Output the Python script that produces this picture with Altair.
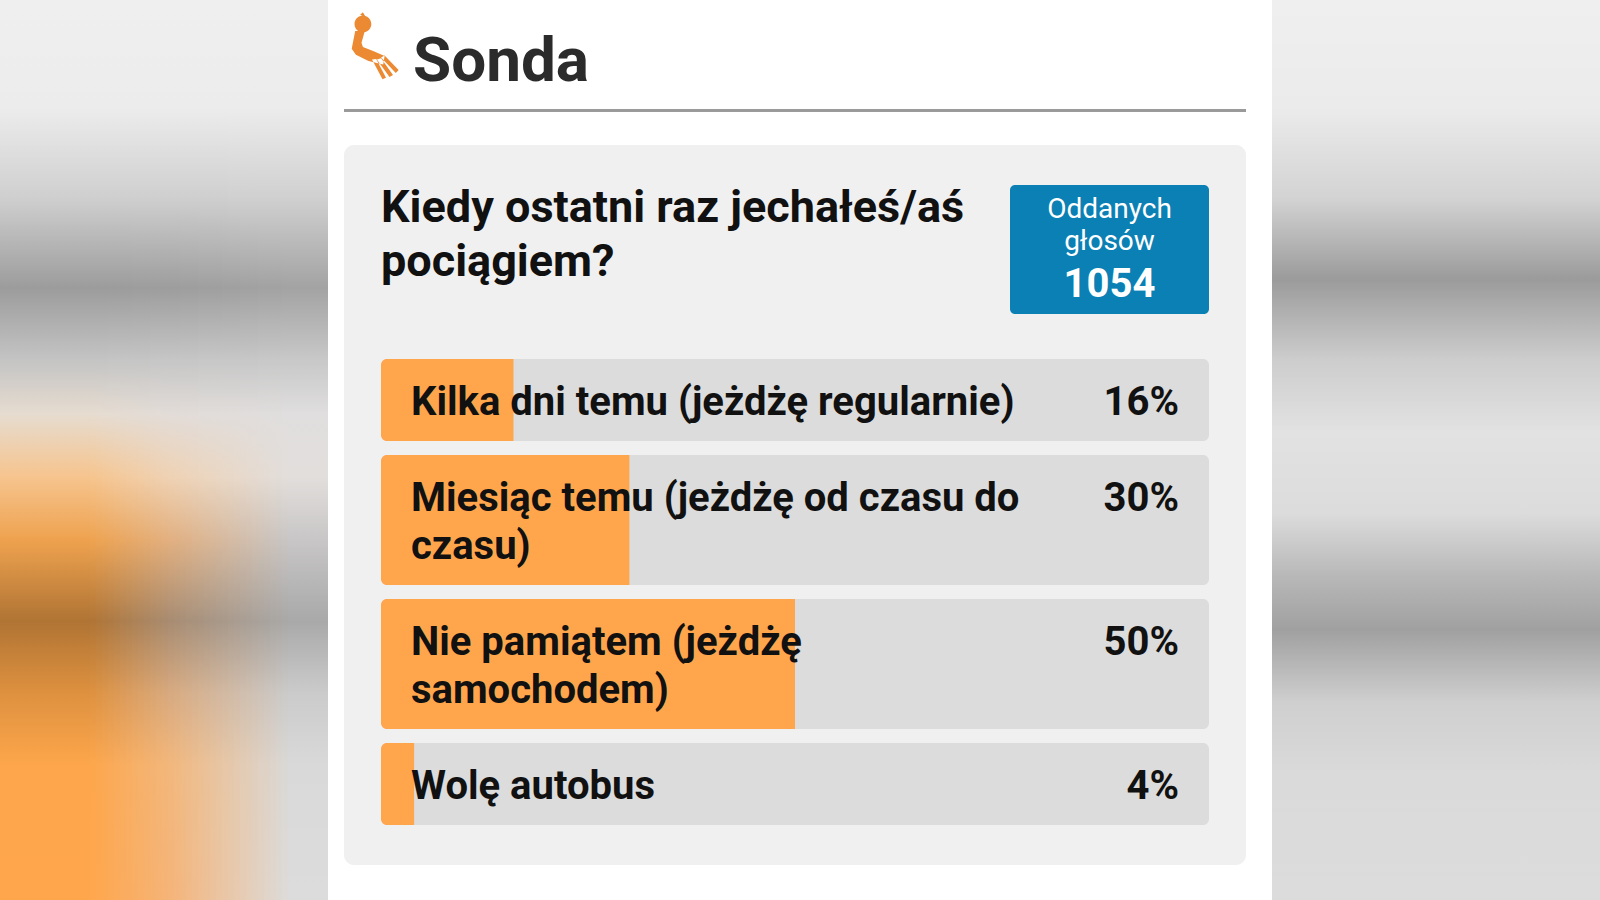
import altair as alt
import pandas as pd

# ---------------- data ----------------
title = "Sonda"
question_lines = ["Kiedy ostatni raz jechałeś/aś", "pociągiem?"]
votes_caption = ["Oddanych", "głosów"]
votes_total = 1054
option_lines = [
    ["Kilka dni temu (jeżdżę regularnie)"],
    ["Miesiąc temu (jeżdżę od czasu do", "czasu)"],
    ["Nie pamiątem (jeżdżę", "samochodem)"],
    ["Wolę autobus"],
]
option_pct = [16, 30, 50, 4]

# ---------------- style / layout ----------------
W, H = 1600, 900
FONT = "Roboto"
ORANGE = "#ffa64d"
TRACK = "#dcdcdc"
CARD = "#f0f0f0"
BLUE = "#0b80b4"
INK = "#111111"

TRACK_X0, TRACK_X1 = 381, 1209
ROW_TOP0, ROW_H1, LINE_H, ROW_GAP = 359, 82, 48, 14
BASE_OFF = 56

rows, lines = [], []
top = ROW_TOP0
for i, (ls, p) in enumerate(zip(option_lines, option_pct)):
    h = ROW_H1 + LINE_H * (len(ls) - 1)
    rows.append({"i": i, "pct": p, "top": top, "bot": top + h, "base": top + BASE_OFF})
    for j, t in enumerate(ls):
        lines.append({"txt": t, "base": top + BASE_OFF + j * LINE_H})
    top += h + ROW_GAP
rows_df = pd.DataFrame(rows)
lines_df = pd.DataFrame(lines)

YPX = alt.Scale(domain=[0, H], range=[0, H])
XPCT = alt.Scale(domain=[0, 100], range=[TRACK_X0, TRACK_X1])

one = pd.DataFrame({"a": [0]})


def hex2rgb(h):
    h = h.lstrip("#")
    return [int(h[k:k + 2], 16) for k in (0, 2, 4)]


def mix(c1, c2, t):
    a, b = hex2rgb(c1), hex2rgb(c2)
    return "#" + "".join(f"{round(a[k] + (b[k] - a[k]) * t):02x}" for k in range(3))


def box(x0, x1, y0, y1, color, **kw):
    return alt.Chart(one).mark_rect(color=color, **kw).encode(
        x=alt.value(x0), x2=alt.value(x1), y=alt.value(y0), y2=alt.value(y1)
    )


def vgrad(stops):
    return alt.Gradient(
        gradient="linear", x1=0, x2=0, y1=0, y2=1,
        stops=[alt.GradientStop(offset=o, color=c) for o, c in stops],
    )


# blurred background: left column (orange blur bottom-left)
offs = [0.0, 0.12, 0.22, 0.32, 0.40, 0.46, 0.53, 0.60, 0.69, 0.77, 0.85, 1.0]
profL = ["#efefef", "#ececec", "#cfcfcf", "#9c9c9c", "#c4c4c4", "#e6dcd0",
         "#f6c48e", "#eea24f", "#b07434", "#de913f", "#fda64b", "#ffa64c"]
profM = ["#efefef", "#ececec", "#cfcfcf", "#9d9d9d", "#c6c6c6", "#e2dcd8",
         "#efd2b4", "#e2b080", "#a88c72", "#d8aa80", "#f2b77c", "#f5b478"]
profR = ["#efefef", "#ececec", "#d0d0d0", "#a3a3a3", "#c8c8c8", "#e0dede",
         "#e2dedc", "#c8c6c6", "#a9a9a9", "#cbcbcb", "#d9d9d9", "#dcdcdc"]
layers = []
STEP = 6
for x0 in range(0, 328, STEP):
    xc = x0 + STEP / 2
    if xc <= 90:
        cols = profL
    elif xc <= 170:
        t = (xc - 90) / 80
        cols = [mix(a, b, t) for a, b in zip(profL, profM)]
    elif xc <= 290:
        t = (xc - 170) / 120
        cols = [mix(a, b, t) for a, b in zip(profM, profR)]
    else:
        cols = profR
    layers.append(box(x0, min(x0 + STEP + 1, 328), 0, H, vgrad(list(zip(offs, cols)))))

# right column
roffs = [0.0, 0.12, 0.22, 0.31, 0.40, 0.48, 0.57, 0.64, 0.70, 0.78, 0.86, 1.0]
rcols = ["#efefef", "#ebebeb", "#d3d3d3", "#9b9b9b", "#cdcdcd", "#e2e2e2",
         "#dcdcdc", "#b8b8b8", "#a0a0a0", "#cfcfcf", "#dadada", "#dcdcdc"]
layers.append(box(1272, W, 0, H, vgrad(list(zip(roffs, rcols)))))

# white page + header
layers.append(box(328, 1272, 0, H, "#ffffff"))
layers.append(box(344, 1246, 109, 112, "#9a9a9a"))

# logo (stylised orange deer)
LOGO_PATH = (
    "M -0.50 -0.66 A 0.24 0.24 0 1 1 -0.02 -0.66 A 0.24 0.24 0 1 1 -0.50 -0.66 Z "
    "M -0.34 -0.92 L -0.26 -0.99 L -0.18 -0.86 Z "
    "M -0.20 -0.48 L -0.30 -0.12 L -0.26 0.0 L 0.05 0.12 L 0.36 0.26 L 0.32 0.50 "
    "L -0.10 0.40 L -0.46 0.22 L -0.58 0.05 L -0.48 -0.46 Z "
    "M 0.00 0.36 L 0.30 0.92 L 0.40 0.88 L 0.12 0.34 Z "
    "M 0.14 0.36 L 0.50 0.86 L 0.60 0.80 L 0.26 0.32 Z "
    "M 0.26 0.30 L 0.68 0.74 L 0.76 0.66 L 0.36 0.24 Z"
)
layers.append(
    alt.Chart(one).mark_point(shape=LOGO_PATH, filled=True, color="#ec8a33",
                              opacity=1, size=4900, strokeWidth=0)
    .encode(x=alt.value(372), y=alt.value(47))
)
layers.append(
    alt.Chart(one).mark_text(text=title, font=FONT, fontWeight="bold", fontSize=62,
                             color="#2b2b2b", align="left", baseline="alphabetic")
    .encode(x=alt.value(413), y=alt.value(81))
)

# card
layers.append(box(344, 1246, 145, 865, CARD, cornerRadius=10))

# question
q_df = pd.DataFrame({"txt": question_lines, "k": range(len(question_lines))})
layers.append(
    alt.Chart(q_df).transform_calculate(yy="222 + datum.k * 54")
    .mark_text(font=FONT, fontWeight="bold", fontSize=45, color=INK,
               align="left", baseline="alphabetic")
    .encode(x=alt.value(381), y=alt.Y("yy:Q", scale=YPX, axis=None), text="txt:N")
)

# votes box
layers.append(box(1010, 1209, 185, 314, BLUE, cornerRadius=5))
cap_df = pd.DataFrame({"txt": votes_caption, "k": range(len(votes_caption))})
layers.append(
    alt.Chart(cap_df).transform_calculate(yy="218 + datum.k * 32")
    .mark_text(font=FONT, fontSize=28, color="#ffffff", align="center", baseline="alphabetic")
    .encode(x=alt.value(1109.5), y=alt.Y("yy:Q", scale=YPX, axis=None), text="txt:N")
)
layers.append(
    alt.Chart(pd.DataFrame({"v": [votes_total]}))
    .mark_text(font=FONT, fontWeight="bold", fontSize=40, color="#ffffff",
               align="center", baseline="alphabetic")
    .encode(x=alt.value(1109.5), y=alt.value(297), text="v:Q")
)

# bars
layers.append(
    alt.Chart(rows_df).mark_rect(color=TRACK, cornerRadius=6)
    .encode(x=alt.value(TRACK_X0), x2=alt.value(TRACK_X1),
            y=alt.Y("top:Q", scale=YPX, axis=None), y2="bot:Q")
)
layers.append(
    alt.Chart(rows_df).mark_rect(color=ORANGE, cornerRadiusTopLeft=6, cornerRadiusBottomLeft=6)
    .encode(x=alt.X("pct:Q", scale=XPCT, axis=None), x2=alt.value(TRACK_X0),
            y=alt.Y("top:Q", scale=YPX, axis=None), y2="bot:Q")
)
layers.append(
    alt.Chart(lines_df).mark_text(font=FONT, fontWeight="bold", fontSize=40, color=INK,
                                  align="left", baseline="alphabetic")
    .encode(x=alt.value(411), y=alt.Y("base:Q", scale=YPX, axis=None), text="txt:N")
)
layers.append(
    alt.Chart(rows_df).transform_calculate(lbl="datum.pct + '%'")
    .mark_text(font=FONT, fontWeight="bold", fontSize=40, color=INK,
               align="right", baseline="alphabetic")
    .encode(x=alt.value(1179), y=alt.Y("base:Q", scale=YPX, axis=None), text="lbl:N")
)

chart = (
    alt.layer(*layers)
    .properties(width=W, height=H, padding=0, autosize=alt.AutoSizeParams(type="none"),
                background="#ffffff")
    .configure_view(stroke=None)
)

chart.save("out.html", embed_options={"renderer": "svg", "actions": False})
